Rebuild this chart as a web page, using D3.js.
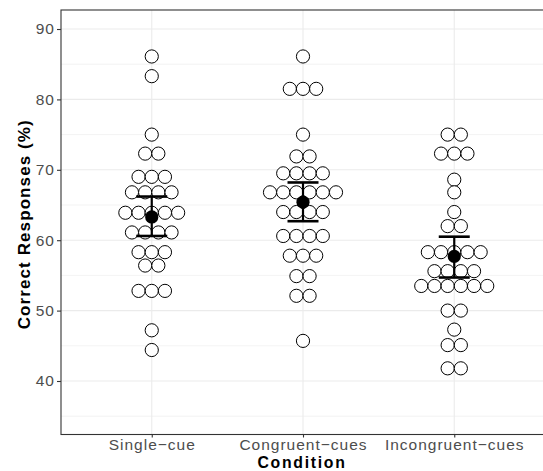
<!DOCTYPE html>
<html>
<head>
<meta charset="utf-8">
<script src="https://cdn.jsdelivr.net/npm/d3@7"></script>
<style>
  body { margin: 0; background: #fff; }
  svg { display: block; font-family: "Liberation Sans", Arial, Helvetica, sans-serif; }
</style>
</head>
<body>
<div class="chart"></div>
<script>
//Data
var conditions = ['Single\u2212cue', 'Congruent\u2212cues', 'Incongruent\u2212cues'];

var singleCue = [86.1, 83.3, 75.0, 72.3, 72.3, 69.0, 69.0, 69.0,
  66.8, 66.8, 66.8, 66.8, 63.9, 63.9, 63.9, 63.9, 63.9,
  61.1, 61.1, 61.1, 61.1, 58.3, 58.3, 58.3, 56.4, 56.4,
  52.8, 52.8, 52.8, 47.2, 44.4];
var congruentCues = [86.1, 81.5, 81.5, 81.5, 75.0, 71.9, 71.9,
  69.5, 69.5, 69.5, 69.5, 66.8, 66.8, 66.8, 66.8, 66.8, 66.8,
  64.0, 64.0, 64.0, 64.0, 60.6, 60.6, 60.6, 60.6, 57.8, 57.8, 57.8,
  54.9, 54.9, 52.1, 52.1, 45.7];
var incongruentCues = [75.0, 75.0, 72.3, 72.3, 72.3, 68.6, 66.8, 64.0,
  62.0, 62.0, 58.3, 58.3, 58.3, 58.3, 58.3, 55.6, 55.6, 55.6, 55.6,
  53.5, 53.5, 53.5, 53.5, 53.5, 53.5, 50.0, 50.0, 47.3, 45.1, 45.1,
  41.8, 41.8];

var means = [63.3, 65.4, 57.7];
var ciLow = [60.6, 62.7, 54.7];
var ciHigh = [66.2, 68.2, 60.5];

var yTicks = [40, 50, 60, 70, 80, 90];
var yMinor = [35, 45, 55, 65, 75, 85];

//Layout
var W = 543, H = 471;
var m = { left: 61, top: 10, right: 545, bottom: 434.5 };
var dotR = 6.6;

var svg = d3.select('.chart').append('svg')
  .attr('width', W)
  .attr('height', H);

var x = d3.scalePoint()
  .domain(conditions)
  .range([m.left, m.right])
  .padding(0.6);

var y = d3.scaleLinear()
  .domain([32.4, 92.7])
  .range([m.bottom, m.top]);

//Grid
var grid = svg.append('g');
grid.selectAll('.minor').data(yMinor).enter().append('line')
  .attr('x1', m.left).attr('x2', m.right)
  .attr('y1', function(d) { return y(d); }).attr('y2', function(d) { return y(d); })
  .attr('stroke', '#ebebeb').attr('stroke-width', 0.6);
grid.selectAll('.major').data(yTicks).enter().append('line')
  .attr('x1', m.left).attr('x2', m.right)
  .attr('y1', function(d) { return y(d); }).attr('y2', function(d) { return y(d); })
  .attr('stroke', '#ebebeb').attr('stroke-width', 1.1);
grid.selectAll('.vx').data(conditions).enter().append('line')
  .attr('x1', function(d) { return x(d); }).attr('x2', function(d) { return x(d); })
  .attr('y1', m.top).attr('y2', m.bottom)
  .attr('stroke', '#ebebeb').attr('stroke-width', 1.1);

//Dots, stacked centred per value
var groups = [singleCue, congruentCues, incongruentCues];
var dots = [];
groups.forEach(function(vals, gi) {
  var rows = d3.group(vals, function(v) { return v; });
  rows.forEach(function(list, v) {
    var n = list.length;
    list.forEach(function(_, k) {
      dots.push({ cond: conditions[gi], value: v, off: (k - (n - 1) / 2) * dotR * 2 });
    });
  });
});

svg.append('g').selectAll('circle')
  .data(dots).enter().append('circle')
  .attr('cx', function(d) { return x(d.cond) + d.off; })
  .attr('cy', function(d) { return y(d.value); })
  .attr('r', dotR)
  .attr('fill', '#fff')
  .attr('stroke', '#000')
  .attr('stroke-width', 1);

//Error bars and means
var eb = svg.append('g');
conditions.forEach(function(c, i) {
  var cx = x(c);
  eb.append('line').attr('x1', cx).attr('x2', cx)
    .attr('y1', y(ciLow[i])).attr('y2', y(ciHigh[i]))
    .attr('stroke', '#000').attr('stroke-width', 2.2);
  [ciLow[i], ciHigh[i]].forEach(function(v) {
    eb.append('line').attr('x1', cx - 15.5).attr('x2', cx + 15.5)
      .attr('y1', y(v)).attr('y2', y(v))
      .attr('stroke', '#000').attr('stroke-width', 2.6);
  });
  eb.append('circle').attr('cx', cx).attr('cy', y(means[i]))
    .attr('r', 6.6).attr('fill', '#000');
});

//Panel border
svg.append('rect')
  .attr('x', m.left).attr('y', m.top)
  .attr('width', m.right - m.left).attr('height', m.bottom - m.top)
  .attr('fill', 'none').attr('stroke', '#333').attr('stroke-width', 1.1);

//Axes
var yAxis = svg.append('g')
  .attr('transform', 'translate(' + m.left + ',0)')
  .call(d3.axisLeft(y).tickValues(yTicks).tickSize(4).tickPadding(2));
var xAxis = svg.append('g')
  .attr('transform', 'translate(0,' + m.bottom + ')')
  .call(d3.axisBottom(x).tickSize(3).tickPadding(1.3));
[yAxis, xAxis].forEach(function(a) {
  a.select('.domain').remove();
  a.selectAll('.tick line').attr('stroke', '#333').attr('stroke-width', 1.1);
  a.selectAll('.tick text')
    .attr('fill', '#4d4d4d')
    .style('font-size', '15.5px')
    .style('letter-spacing', '1px')
    .style('font-family', '"Liberation Sans", Arial, sans-serif');
});

//Titles
svg.append('text')
  .attr('x', 302).attr('y', 467.6)
  .attr('text-anchor', 'middle')
  .style('font-size', '15.8px').style('font-weight', 'bold')
  .style('letter-spacing', '1.7px')
  .text('Condition');

svg.append('text')
  .attr('transform', 'translate(29.5,' + ((m.top + m.bottom) / 2 + 2) + ') rotate(-90)')
  .attr('text-anchor', 'middle')
  .style('font-size', '17px').style('font-weight', 'bold')
  .style('letter-spacing', '1.1px')
  .text('Correct Responses (%)');
</script>
</body>
</html>
